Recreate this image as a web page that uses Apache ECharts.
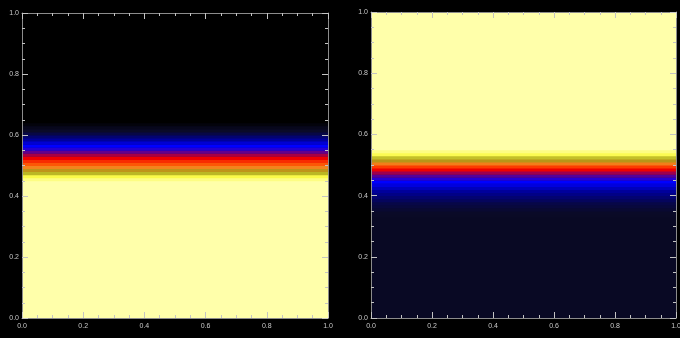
<!DOCTYPE html>
<html>
<head>
<meta charset="utf-8">
<script src="https://cdn.jsdelivr.net/npm/echarts@6/dist/echarts.min.js"></script>
<style>
  html, body { margin: 0; padding: 0; background: #000; }
  #chart { width: 680px; height: 338px; }
</style>
</head>
<body>
<div id="chart"></div>
<script>
// Tick labels shared by every axis
const TICK_LABELS = ['0.0', '0.2', '0.4', '0.6', '0.8', '1.0'];

// Left panel: band edges along y (bottom to top) and the field value in each band
const leftEdges = [0.00, 0.44, 0.45, 0.46, 0.47, 0.48, 0.49, 0.50, 0.51, 0.52, 0.53, 0.54,
                   0.55, 0.56, 0.57, 0.58, 0.59, 0.60, 0.61, 0.62, 0.63, 0.64, 0.65, 1.00];
const leftValues = [1.00, 1.00, 0.96, 0.90, 0.83, 0.76, 0.69, 0.62, 0.56, 0.50, 0.44,
                    0.38, 0.33, 0.30, 0.26, 0.21, 0.17, 0.13, 0.10, 0.07, 0.03, 0.00, 0.00];

// Right panel: band edges along y (bottom to top) and the field value in each band
const rightEdges = [0.00, 0.33, 0.34, 0.35, 0.36, 0.37, 0.38, 0.39, 0.40, 0.41, 0.42, 0.43,
                    0.44, 0.45, 0.46, 0.47, 0.48, 0.49, 0.50, 0.51, 0.52, 0.53, 0.54, 0.55, 1.00];
const rightValues = [0.09, 0.095, 0.10, 0.11, 0.12, 0.13, 0.15, 0.17, 0.19, 0.21, 0.24, 0.27,
                     0.30, 0.33, 0.37, 0.43, 0.50, 0.58, 0.68, 0.77, 0.84, 0.91, 0.96, 1.00];

// Colour table: black -> navy -> blue -> red -> orange -> olive -> yellow -> pale yellow
const COLOR_TABLE = ['#000000', '#0a0a28', '#000090', '#0000ff', '#7a0070', '#ee0000',
                     '#ff4a00', '#f08a20', '#9e9a14', '#fafa48', '#ffffaa'];

function bands(edges, values) {
  return values.map((v, i) => [edges[i], edges[i + 1], v]);
}

function renderBand(params, api) {
  const topLeft = api.coord([0, api.value(1)]);
  const bottomRight = api.coord([1, api.value(0)]);
  return {
    type: 'rect',
    shape: {
      x: topLeft[0],
      y: topLeft[1],
      width: bottomRight[0] - topLeft[0],
      height: bottomRight[1] - topLeft[1] + 0.5
    },
    style: { fill: api.visual('color') }
  };
}

function axis(kind, gridIndex, position, showLabel) {
  return {
    type: 'value',
    gridIndex: gridIndex,
    position: position,
    min: 0,
    max: 1,
    interval: 0.2,
    z: 10,
    axisLine: { show: true, onZero: false, lineStyle: { color: '#8c8c8c', width: 1 } },
    axisTick: { show: true, inside: true, length: 6, lineStyle: { color: '#c4c4c4', width: 1 } },
    minorTick: { show: true, splitNumber: 4, length: 3, lineStyle: { color: '#c4c4c4', width: 1 } },
    splitLine: { show: false },
    minorSplitLine: { show: false },
    axisLabel: {
      show: showLabel,
      color: '#c8c8c8',
      fontSize: 7,
      fontFamily: 'Liberation Sans, Arial, sans-serif',
      margin: kind === 'x' ? 5 : 3,
      formatter: (value, index) => TICK_LABELS[index]
    }
  };
}

const chart = echarts.init(document.getElementById('chart'), null, { renderer: 'canvas' });

chart.setOption({
  backgroundColor: '#000000',
  animation: false,
  grid: [
    { left: 22, top: 13, width: 306, height: 305, outerBoundsMode: 'none', containLabel: false },
    { left: 371, top: 12, width: 305, height: 306, outerBoundsMode: 'none', containLabel: false }
  ],
  xAxis: [
    axis('x', 0, 'bottom', true),
    axis('x', 0, 'top', false),
    axis('x', 1, 'bottom', true),
    axis('x', 1, 'top', false)
  ],
  yAxis: [
    axis('y', 0, 'left', true),
    axis('y', 0, 'right', false),
    axis('y', 1, 'left', true),
    axis('y', 1, 'right', false)
  ],
  visualMap: {
    type: 'continuous',
    show: false,
    min: 0,
    max: 1,
    dimension: 2,
    seriesIndex: [0, 1],
    inRange: { color: COLOR_TABLE }
  },
  series: [
    {
      type: 'custom',
      xAxisIndex: 0,
      yAxisIndex: 0,
      z: 1,
      renderItem: renderBand,
      encode: { y: [0, 1] },
      data: bands(leftEdges, leftValues)
    },
    {
      type: 'custom',
      xAxisIndex: 2,
      yAxisIndex: 2,
      z: 1,
      renderItem: renderBand,
      encode: { y: [0, 1] },
      data: bands(rightEdges, rightValues)
    }
  ]
});
</script>
</body>
</html>
